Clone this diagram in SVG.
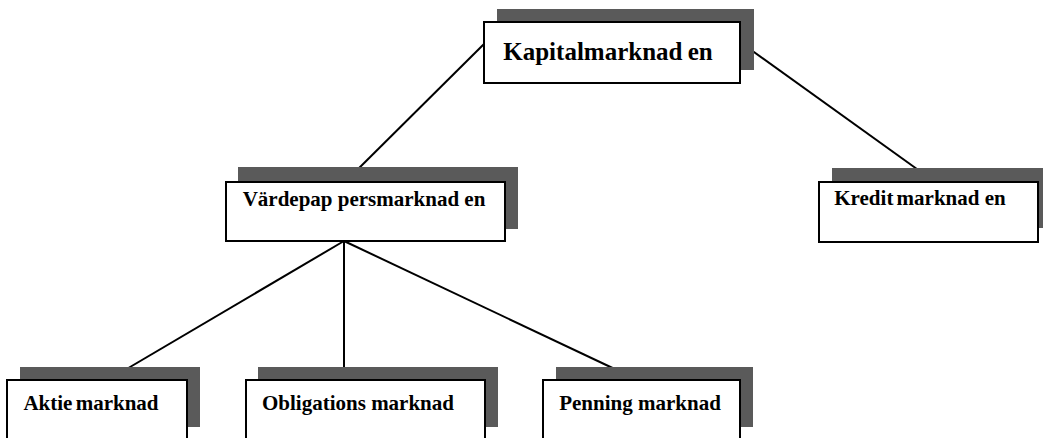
<svg xmlns="http://www.w3.org/2000/svg" width="1043" height="438" viewBox="0 0 1043 438">
<style>
.shadow{fill:#5a5a5a;}
.box{fill:#fff;stroke:#000;stroke-width:2;}
.lbl{font-family:"Liberation Serif","Times New Roman",serif;font-weight:bold;font-size:21px;fill:#000;}
.big{font-size:25px;}
.tight{word-spacing:-2px;}
.conn{stroke:#000;stroke-width:2;fill:none;}
</style>
<rect width="1043" height="438" fill="#fff"/>
<g id="connectors">
<line class="conn" x1="484" y1="44" x2="345" y2="182"/>
<line class="conn" x1="740" y1="42" x2="935" y2="182"/>
<line class="conn" x1="344" y1="241" x2="108" y2="380"/>
<line class="conn" x1="344" y1="241" x2="344" y2="380"/>
<line class="conn" x1="344" y1="241" x2="638" y2="380"/>
</g>
<g id="kapitalmarknaden">
<rect class="shadow" x="497" y="9" width="257" height="61"/>
<rect class="box" x="484" y="22" width="256" height="61"/>
<text class="lbl big" x="608" y="60" text-anchor="middle" word-spacing="-1">Kapitalmarknad en</text>
</g>
<g id="vardepappersmarknaden">
<rect class="shadow" x="238" y="167" width="280" height="62"/>
<rect class="box" x="226" y="182" width="279" height="59"/>
<text class="lbl" x="364" y="206" text-anchor="middle">Värdepap persmarknad en</text>
</g>
<g id="kreditmarknaden">
<rect class="shadow" x="832" y="168" width="211" height="60"/>
<rect class="box" x="819" y="182" width="219" height="60"/>
<text class="lbl" x="920" y="205" text-anchor="middle"><tspan class="tight">Kredit marknad</tspan> en</text>
</g>
<g id="aktiemarknad">
<rect class="shadow" x="20" y="367" width="180" height="60"/>
<rect class="box" x="7" y="380" width="180" height="70"/>
<text class="lbl tight" x="91" y="410" text-anchor="middle">Aktie marknad</text>
</g>
<g id="obligationsmarknad">
<rect class="shadow" x="258" y="367" width="240" height="60"/>
<rect class="box" x="246" y="380" width="239" height="70"/>
<text class="lbl" x="358" y="410" text-anchor="middle">Obligations marknad</text>
</g>
<g id="penningmarknad">
<rect class="shadow" x="556" y="367" width="197" height="60"/>
<rect class="box" x="543" y="380" width="197" height="70"/>
<text class="lbl" x="640" y="410" text-anchor="middle">Penning marknad</text>
</g>
</svg>
